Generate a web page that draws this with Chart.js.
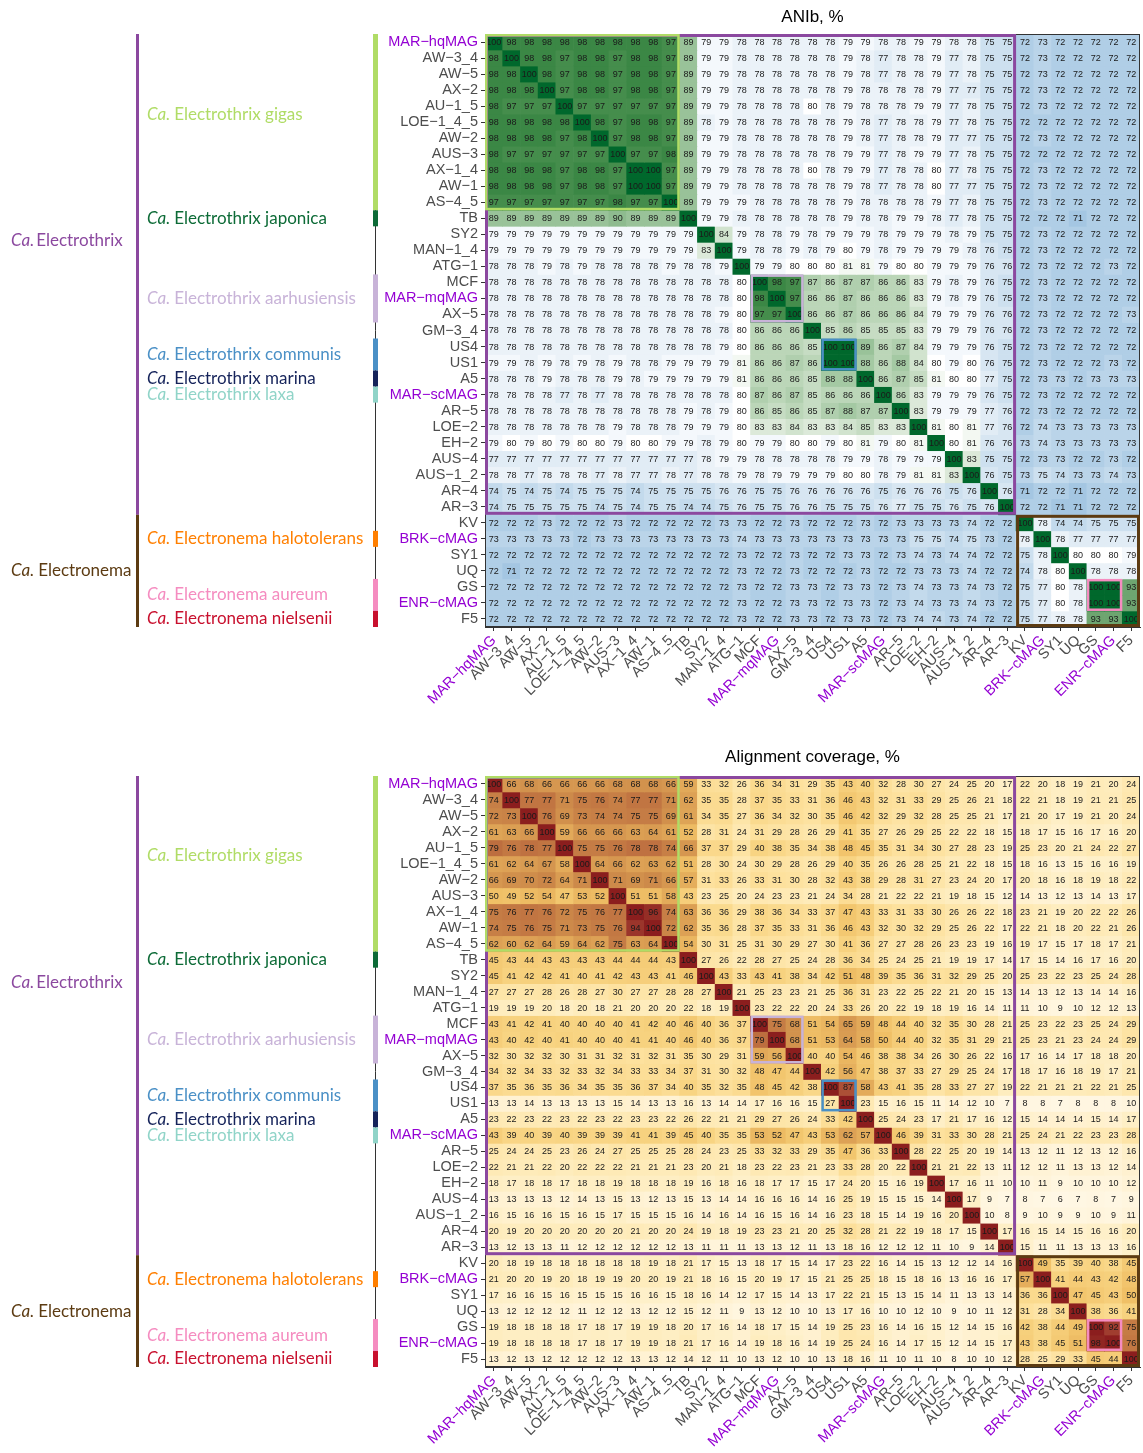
<!DOCTYPE html>
<html><head><meta charset="utf-8">
<script src="https://cdn.jsdelivr.net/npm/chart.js@4.4.0/dist/chart.umd.min.js"></script>
<style>
html,body{margin:0;padding:0;background:#fff;}
#wrap{position:relative;width:1143px;height:1453px;}
canvas{position:absolute;left:0;}
</style></head>
<body><div id="wrap">
<canvas id="ani" width="1143" height="742" style="top:0"></canvas>
<canvas id="cov" width="1143" height="711" style="top:742px"></canvas>
</div>
<script>
const genomes = ["MAR−hqMAG","AW−3_4","AW−5","AX−2","AU−1_5","LOE−1_4_5","AW−2","AUS−3","AX−1_4","AW−1","AS−4_5","TB","SY2","MAN−1_4","ATG−1","MCF","MAR−mqMAG","AX−5","GM−3_4","US4","US1","A5","MAR−scMAG","AR−5","LOE−2","EH−2","AUS−4","AUS−1_2","AR−4","AR−3","KV","BRK−cMAG","SY1","UQ","GS","ENR−cMAG","F5"];
const highlightedGenomes = ["MAR−hqMAG","MAR−mqMAG","MAR−scMAG","BRK−cMAG","ENR−cMAG"];

const aniValues = [
[100,98,98,98,98,98,98,98,98,98,97,89,79,79,78,78,78,78,78,78,79,79,78,78,79,79,78,78,75,75,72,73,72,72,72,72,72],
[98,100,98,98,97,98,98,97,98,98,97,89,79,79,78,78,78,78,78,78,79,78,77,78,78,79,77,78,75,75,72,73,72,72,72,72,72],
[98,98,100,98,97,98,98,97,98,98,97,89,79,79,78,78,78,78,78,78,79,78,77,78,78,79,77,78,75,75,72,73,72,72,72,72,72],
[98,98,98,100,97,98,98,97,98,98,97,89,79,79,78,78,78,78,78,78,79,78,78,78,78,79,77,77,75,75,72,73,72,72,72,72,72],
[98,97,97,97,100,97,97,97,97,97,97,89,79,79,78,78,78,78,80,78,79,78,78,78,79,79,77,78,75,75,72,73,72,72,72,72,72],
[98,98,98,98,98,100,98,97,98,98,97,89,78,79,78,78,78,78,78,78,79,78,77,78,78,79,77,78,75,75,72,72,72,72,72,72,72],
[98,98,98,98,97,98,100,97,98,98,97,89,79,79,78,78,78,78,78,78,79,78,77,78,78,79,77,77,75,75,72,73,72,72,72,72,72],
[98,97,97,97,97,97,97,100,97,97,98,89,79,79,78,78,78,78,78,78,79,79,77,78,79,79,77,78,75,75,72,72,72,72,72,72,72],
[98,98,98,98,97,98,98,97,100,100,97,89,79,79,78,78,78,78,80,78,79,79,77,78,78,80,77,78,75,75,72,73,72,72,72,72,72],
[98,98,98,98,97,98,98,97,100,100,97,89,79,79,78,78,78,78,78,78,79,78,77,78,78,80,77,77,75,75,72,73,72,72,72,72,72],
[97,97,97,97,97,97,97,98,97,97,100,89,79,79,79,78,78,78,78,78,79,78,78,78,78,79,77,78,75,75,72,73,72,72,72,72,72],
[89,89,89,89,89,89,89,90,89,89,89,100,79,79,78,78,78,78,78,78,79,78,78,79,79,78,77,78,75,75,72,72,72,71,72,72,72],
[79,79,79,79,79,79,79,79,79,79,79,79,100,84,79,78,78,79,78,79,79,79,78,79,79,79,78,79,75,75,72,73,72,72,72,72,72],
[79,79,79,79,79,79,79,79,79,79,79,79,83,100,79,78,78,79,78,79,80,79,78,79,79,79,79,78,76,75,72,73,72,72,72,72,72],
[78,78,78,79,78,79,78,78,78,78,79,78,78,79,100,79,79,80,80,80,81,81,79,80,80,79,79,79,76,76,72,73,72,72,72,73,72],
[78,78,78,78,78,78,78,78,78,78,78,78,78,78,80,100,98,97,87,86,87,87,86,86,83,79,78,79,76,75,72,73,72,72,72,72,72],
[78,78,78,78,78,78,78,78,78,78,78,78,78,78,80,98,100,97,86,86,87,86,86,86,83,79,78,79,76,75,72,73,72,72,72,72,72],
[78,78,78,78,78,78,78,78,78,78,78,78,78,79,80,97,97,100,86,86,87,86,86,86,84,79,79,79,76,76,72,73,72,72,72,72,73],
[78,78,78,78,78,78,78,78,78,78,78,78,78,78,80,86,86,86,100,85,86,85,85,85,83,79,79,79,76,76,72,73,72,72,72,72,72],
[78,78,78,78,78,78,78,78,78,78,78,78,78,79,80,86,86,86,85,100,100,89,86,87,84,79,79,79,76,75,72,73,72,72,72,72,72],
[79,79,78,79,78,79,78,79,78,78,79,79,79,79,81,86,86,87,86,100,100,88,86,88,84,80,79,80,76,75,72,73,72,72,72,73,72],
[78,78,78,79,78,78,78,79,78,79,79,79,79,79,81,86,86,86,85,88,88,100,86,87,85,81,80,80,77,75,72,73,73,72,73,73,73],
[78,78,78,78,77,78,77,78,78,78,78,78,78,78,80,87,86,87,85,86,86,86,100,86,83,79,79,79,76,75,72,73,72,72,72,72,72],
[78,78,78,78,78,78,78,78,78,78,78,79,78,79,80,86,85,86,85,87,88,87,87,100,83,79,79,79,77,76,72,73,72,72,72,72,72],
[78,78,78,78,78,78,78,79,78,78,78,79,79,79,80,83,83,84,83,83,84,85,83,83,100,81,80,81,77,76,72,74,73,73,73,73,73],
[79,80,79,80,79,80,80,79,80,80,79,79,78,79,80,79,79,80,80,79,80,81,79,80,81,100,80,81,76,76,73,74,73,73,73,73,73],
[77,77,77,77,77,77,77,77,77,77,77,77,78,79,79,78,78,78,78,78,79,79,78,79,79,79,100,83,75,75,72,73,73,72,72,73,72],
[78,78,77,78,78,78,77,78,77,77,78,77,78,78,79,78,79,79,79,79,80,80,78,79,81,81,83,100,76,75,73,75,74,73,73,74,73],
[74,75,74,75,74,75,75,75,74,75,75,75,75,76,76,75,75,76,76,76,76,76,75,76,76,76,75,76,100,76,71,72,72,71,72,72,72],
[74,75,75,75,75,75,74,75,74,75,75,74,74,75,76,75,75,76,76,75,75,75,76,77,75,75,76,75,76,100,72,72,71,71,72,72,72],
[72,72,72,73,72,72,72,73,72,72,72,72,72,73,73,72,72,73,72,72,72,73,72,73,73,73,73,74,72,72,100,78,74,74,75,75,75],
[73,73,73,73,73,72,73,73,73,73,73,73,73,73,74,73,73,73,73,73,73,73,73,73,75,75,74,75,73,72,78,100,78,77,77,77,77],
[72,72,72,72,72,72,72,72,72,72,72,72,72,72,73,72,72,73,72,72,73,73,72,73,74,73,74,74,72,72,75,78,100,80,80,80,79],
[72,71,72,72,72,72,72,72,72,72,72,72,72,72,73,72,72,73,72,72,72,73,72,72,73,73,73,74,72,72,74,78,80,100,78,78,78],
[72,72,72,72,72,72,72,72,72,72,72,72,72,72,73,72,72,73,73,72,73,73,72,73,74,73,73,74,73,72,75,77,80,78,100,100,93],
[72,72,72,72,72,72,72,72,72,72,72,72,72,72,73,72,72,73,73,72,73,73,72,73,74,73,73,74,73,72,75,77,80,78,100,100,93],
[72,72,72,72,72,72,72,72,72,72,72,72,72,72,73,72,72,73,73,72,73,73,72,73,74,74,73,74,72,72,75,77,78,78,93,93,100]
];

const coverageValues = [
[100,66,68,66,66,66,66,68,68,68,66,59,33,32,26,36,34,31,29,35,43,40,32,28,30,27,24,25,20,17,22,20,18,19,21,20,24],
[74,100,77,77,71,75,76,74,77,77,71,62,35,35,28,37,35,33,31,36,46,43,32,31,33,29,25,26,21,18,22,21,18,19,21,21,25],
[72,73,100,76,69,73,74,74,75,75,69,61,34,35,27,36,34,32,30,35,46,42,32,29,32,28,25,25,21,17,21,20,17,19,21,20,24],
[61,63,66,100,59,66,66,66,63,64,61,52,28,31,24,31,29,28,26,29,41,35,27,26,29,25,22,22,18,15,18,17,15,16,17,16,20],
[79,76,78,77,100,75,75,76,78,78,74,66,37,37,29,40,38,35,34,38,48,45,35,31,34,30,27,28,23,19,25,23,20,21,24,22,27],
[61,62,64,67,58,100,64,66,62,63,62,51,28,30,24,30,29,28,26,29,40,35,26,26,28,25,21,22,18,15,18,16,13,15,16,16,19],
[66,69,70,72,64,71,100,71,69,71,66,57,31,33,26,33,31,30,28,32,43,38,29,28,31,27,23,24,20,17,20,18,16,18,19,18,22],
[50,49,52,54,47,53,52,100,51,51,58,43,23,25,20,24,23,23,21,24,34,28,21,22,22,21,19,18,15,12,14,13,12,13,14,13,17],
[75,76,77,76,72,75,76,77,100,96,74,63,36,36,29,38,36,34,33,37,47,43,33,31,33,30,26,26,22,18,23,21,19,20,22,22,26],
[74,75,76,75,71,73,75,76,94,100,72,62,35,36,28,37,35,33,31,36,46,43,32,30,32,29,25,26,22,17,22,21,18,20,22,21,26],
[62,60,62,64,59,64,62,75,63,64,100,54,30,31,25,31,30,29,27,30,41,36,27,27,28,26,23,23,19,16,19,17,15,17,18,17,21],
[45,43,44,43,43,43,43,44,44,44,43,100,27,26,22,28,27,25,24,28,36,34,25,24,25,21,19,19,17,14,17,15,14,16,17,16,20],
[45,41,42,42,41,40,41,42,43,43,41,46,100,43,33,43,41,38,34,42,51,48,39,35,36,31,32,29,25,20,25,23,22,23,25,24,28],
[27,27,27,28,26,28,27,30,27,27,28,28,27,100,21,25,23,23,21,25,36,31,23,22,25,22,21,20,15,13,14,13,12,13,14,14,16],
[19,19,19,20,18,20,18,21,20,20,20,22,18,19,100,23,22,22,20,24,33,26,20,22,19,18,19,16,14,11,11,10,9,10,12,12,13],
[43,41,42,41,40,40,40,40,41,42,40,46,40,36,37,100,75,68,51,54,65,59,48,44,40,32,35,30,28,21,25,23,22,23,25,24,29],
[43,40,42,40,41,40,40,40,41,41,40,46,40,36,37,79,100,68,51,53,64,58,50,44,40,32,35,31,29,21,25,23,21,23,24,24,29],
[32,30,32,32,30,31,31,32,31,32,31,35,30,29,31,59,56,100,40,40,54,46,38,38,34,26,30,26,22,16,17,16,14,17,18,18,20],
[34,32,34,33,32,33,32,34,33,33,34,37,31,30,32,48,47,44,100,42,56,47,38,37,33,27,29,25,24,17,18,17,16,18,19,17,21],
[37,35,36,35,36,34,35,35,36,37,34,40,35,32,35,48,45,42,38,100,87,58,43,41,35,28,33,27,27,19,22,21,21,21,22,21,25],
[13,13,14,13,13,13,13,15,14,13,13,16,13,14,14,17,16,16,15,27,100,23,15,16,15,11,14,12,10,7,8,8,7,8,8,8,10],
[23,22,23,22,23,22,23,22,23,23,22,26,22,21,21,29,27,26,24,33,42,100,25,24,23,17,21,17,16,12,15,14,14,14,15,14,17],
[43,39,40,39,40,39,39,39,41,41,39,45,40,35,35,53,52,47,43,53,62,57,100,46,39,31,33,30,28,21,25,24,21,22,23,23,28],
[25,24,24,25,23,26,24,27,25,25,25,28,24,23,25,33,32,33,29,35,47,36,33,100,28,22,25,20,19,14,13,12,11,12,13,12,16],
[22,21,21,22,20,22,22,22,21,21,21,23,20,21,18,23,22,23,21,23,33,28,20,22,100,21,21,22,13,11,12,12,11,13,13,12,14],
[18,17,18,18,17,18,18,19,18,18,18,19,16,18,16,18,17,17,15,17,24,20,15,16,19,100,17,16,11,10,10,11,9,10,10,10,12],
[13,13,13,13,12,14,13,15,13,12,13,15,13,14,14,16,16,16,14,16,25,19,15,15,15,14,100,17,9,7,8,7,6,7,8,7,9],
[16,15,16,16,15,16,15,17,15,15,15,16,14,16,14,16,15,16,14,16,23,18,15,14,19,16,20,100,10,8,9,10,9,9,10,9,11],
[20,19,20,20,20,20,20,20,21,20,20,24,19,18,19,23,23,21,20,25,32,28,21,22,19,18,17,15,100,17,16,15,14,15,16,16,20],
[13,12,13,13,11,12,12,12,12,12,12,13,11,11,11,13,13,12,11,13,18,16,12,12,12,11,10,9,14,100,15,11,11,13,13,13,16],
[20,18,19,18,18,18,18,18,18,19,18,21,17,15,13,18,17,15,14,17,23,22,16,14,15,13,12,12,14,16,100,49,35,39,40,38,45],
[21,20,20,19,20,18,19,19,20,20,19,21,18,16,15,20,19,17,15,21,25,25,18,15,18,16,13,16,16,17,57,100,41,44,43,42,48],
[17,16,16,15,16,15,15,15,16,16,15,18,16,14,12,17,15,14,13,17,22,21,15,13,15,14,11,13,13,14,36,36,100,47,45,43,50],
[13,12,12,12,12,11,12,12,13,12,12,15,12,11,9,13,12,10,10,13,17,16,10,10,12,10,9,10,11,12,31,28,34,100,38,36,41],
[19,18,18,18,18,17,18,17,19,19,18,20,17,16,14,18,17,15,14,19,25,23,16,14,16,15,12,14,15,16,42,38,44,49,100,92,75],
[19,18,18,18,18,17,18,17,19,19,18,21,17,16,14,19,18,16,14,19,25,24,16,14,17,15,12,14,15,17,43,38,45,51,98,100,76],
[13,12,13,12,12,12,12,12,13,13,12,14,12,11,10,13,12,10,10,13,18,16,11,10,11,10,8,10,10,12,28,25,29,33,45,44,100]
];

// group definitions (indices into genomes)
const genusNames  = ["Electrothrix", "Electronema"];
const genusFirst  = [0, 30];
const genusLast   = [29, 36];
const genusLabelAt = [12.4, 33];
const speciesNames = ["Electrothrix gigas","Electrothrix japonica","Electrothrix aarhusiensis","Electrothrix communis","Electrothrix marina","Electrothrix laxa","Electronema halotolerans","Electronema aureum","Electronema nielsenii"];
const speciesFirst = [0, 11, 15, 19, 21, 22, 31, 34, 36];
const speciesLast  = [10, 11, 17, 20, 21, 22, 31, 35, 36];
const speciesLabelAt = [4.5, 11, 16, 19.5, 21, 22, 31, 34.5, 36];
const speciesBoxed = [true, false, true, true, false, false, false, true, false];

// styling
const genusColors = ["#8b489f", "#5c3b12"];
const speciesColors = ["#b0dc66","#0d6b37","#c8b3d8","#4a90c6","#15235a","#90d4c8","#ff7f00","#f58cc0","#c8102e"];
const PURPLE = "#9400d3", GREY = "#4d4d4d";
const aniStops = [[70,'#98bedd'],[72,'#b0cee6'],[75,'#cde0ef'],[78,'#ebf2f8'],[79,'#f4f8fc'],[80,'#ffffff'],[83,'#dce9d9'],[86,'#bbd6b8'],[89,'#99c299'],[93,'#6ea570'],[97,'#458d4c'],[98,'#3b8745'],[100,'#00682c']];
const covStops = [[0,'#fffaf0'],[10,'#fff5dd'],[20,'#feecbc'],[30,'#fde2a0'],[40,'#f8d482'],[50,'#f0c066'],[60,'#e0a657'],[70,'#cf8d4b'],[80,'#bb6a3e'],[90,'#a54533'],[100,'#8b1e1e']];

function hex2rgb(h){return [parseInt(h.slice(1,3),16),parseInt(h.slice(3,5),16),parseInt(h.slice(5,7),16)];}
function scaleColor(stops, v){
  if (v <= stops[0][0]) return stops[0][1];
  for (let i=1;i<stops.length;i++){
    if (v <= stops[i][0]){
      const t=(v-stops[i-1][0])/(stops[i][0]-stops[i-1][0]);
      const a=hex2rgb(stops[i-1][1]), b=hex2rgb(stops[i][1]);
      return 'rgb('+a.map((x,k)=>Math.round(x+(b[k]-x)*t)).join(',')+')';
    }
  }
  return stops[stops.length-1][1];
}

const LABEL_FONT = '"Liberation Sans", Arial, sans-serif';
const ANNOT_FONT = 'Lato, "Open Sans", sans-serif';

const heatPlugin = {
  id: 'heat',
  afterDatasetsDraw(chart, args, opts) {
    const {ctx, scales:{x, y}, chartArea:a} = chart;
    const vals = opts.values;
    ctx.save();
    ctx.font = '9px ' + LABEL_FONT;
    ctx.textAlign = 'center'; ctx.textBaseline = 'middle'; ctx.fillStyle = '#1a1a1a';
    vals.forEach((row, r) => row.forEach((v, c) => {
      ctx.fillText(String(v), x.getPixelForValue(c), y.getPixelForValue(r) + 0.5);
    }));
    // frame
    ctx.strokeStyle = '#333'; ctx.lineWidth = 1;
    ctx.strokeRect(a.left + 0.5, a.top + 0.5, a.width - 1, a.height - 1);
    const box = (f, l, color, w) => {
      const half = (x.getPixelForValue(1) - x.getPixelForValue(0)) / 2;
      const x0 = x.getPixelForValue(f) - half;
      const x1 = x.getPixelForValue(l) + half;
      const y0 = y.getPixelForValue(f - 0.5), y1 = y.getPixelForValue(l + 0.5);
      ctx.strokeStyle = color; ctx.lineWidth = w;
      ctx.strokeRect(x0 + w/2, y0 + w/2, x1 - x0 - w, y1 - y0 - w);
    };
    genusNames.forEach((g, i) => box(genusFirst[i], genusLast[i], genusColors[i], 3));
    speciesNames.forEach((s, i) => { if (speciesBoxed[i]) box(speciesFirst[i], speciesLast[i], speciesColors[i], 2.5); });
    ctx.restore();
  },
  afterDraw(chart, args, opts) {
    const {ctx, scales:{y}, chartArea:a} = chart;
    ctx.save();
    // title
    ctx.font = '17px ' + LABEL_FONT; ctx.fillStyle = '#000';
    ctx.textAlign = 'center'; ctx.textBaseline = 'middle';
    ctx.fillText(opts.title, (a.left + a.right) / 2, opts.titleY);
    // thin annotation line
    ctx.strokeStyle = '#333'; ctx.lineWidth = 1;
    ctx.beginPath(); ctx.moveTo(375.5, y.getPixelForValue(-0.5)); ctx.lineTo(375.5, y.getPixelForValue(36.5)); ctx.stroke();
    const label = (text, x, yy, color, gap) => {
      ctx.fillStyle = color; ctx.textAlign = 'left'; ctx.textBaseline = 'middle';
      ctx.font = 'italic 17px ' + ANNOT_FONT;
      ctx.fillText('Ca.', x, yy);
      const w = ctx.measureText('Ca.').width;
      ctx.font = '17px ' + ANNOT_FONT;
      ctx.fillText(text, x + w + gap, yy);
    };
    speciesNames.forEach((s, i) => {
      const t = y.getPixelForValue(speciesFirst[i] - 0.5), b = y.getPixelForValue(speciesLast[i] + 0.5);
      ctx.fillStyle = speciesColors[i];
      ctx.fillRect(373, t, 5, b - t);
      label(s, 147, y.getPixelForValue(speciesLabelAt[i]), speciesColors[i], 4);
    });
    genusNames.forEach((g, i) => {
      const t = y.getPixelForValue(genusFirst[i] - 0.5), b = y.getPixelForValue(genusLast[i] + 0.5);
      ctx.fillStyle = genusColors[i];
      ctx.fillRect(136, t, 3, b - t);
      label(g, 11, y.getPixelForValue(genusLabelAt[i]), genusColors[i], i === 0 ? 2 : 4);
    });
    ctx.restore();
  }
};

function makeHeatmap(id, values, stops, title, titleY, xHeight) {
  const datasets = genomes.map((g, r) => ({
    label: g,
    data: genomes.map(() => [r - 0.5, r + 0.5]),
    backgroundColor: values[r].map(v => scaleColor(stops, v)),
    grouped: false, barPercentage: 1, categoryPercentage: 1, borderWidth: 0
  }));
  const tickColor = (ctx) => highlightedGenomes.includes(genomes[ctx.index]) ? PURPLE : GREY;
  return new Chart(document.getElementById(id), {
    type: 'bar',
    data: { labels: genomes, datasets },
    plugins: [heatPlugin],
    options: {
      responsive: false, animation: false, devicePixelRatio: 1,
      layout: { padding: { top: 34, right: 3, left: 0, bottom: 0 } },
      plugins: { legend: { display: false }, tooltip: { enabled: false }, title: { display: false },
        heat: { values, title, titleY } },
      scales: {
        x: {
          type: 'category', offset: true,
          afterFit: s => { s.height = xHeight; s.paddingLeft = 0; s.paddingRight = 0; },
          ticks: { autoSkip: false, maxRotation: 45, minRotation: 45, padding: 1,
            font: { family: LABEL_FONT, size: 14.5 }, color: tickColor },
          grid: { drawOnChartArea: false, drawTicks: true, tickLength: 4, color: '#333', offset: false },
          border: { display: true, color: '#333' }
        },
        y: {
          type: 'linear', min: -0.5, max: 36.5, reverse: true,
          afterBuildTicks: s => { s.ticks = genomes.map((g, i) => ({ value: i })); },
          afterFit: s => { s.width = 485; },
          ticks: { autoSkip: false, padding: 3, font: { family: LABEL_FONT, size: 14.5 },
            color: tickColor, callback: v => genomes[v] },
          grid: { drawOnChartArea: false, drawTicks: true, tickLength: 4, color: '#333' },
          border: { display: true, color: '#333' }
        }
      }
    }
  });
}

makeHeatmap('ani', aniValues, aniStops, 'ANIb, %', 17, 115);
makeHeatmap('cov', coverageValues, covStops, 'Alignment coverage, %', 15, 86);
</script>
</body></html>
